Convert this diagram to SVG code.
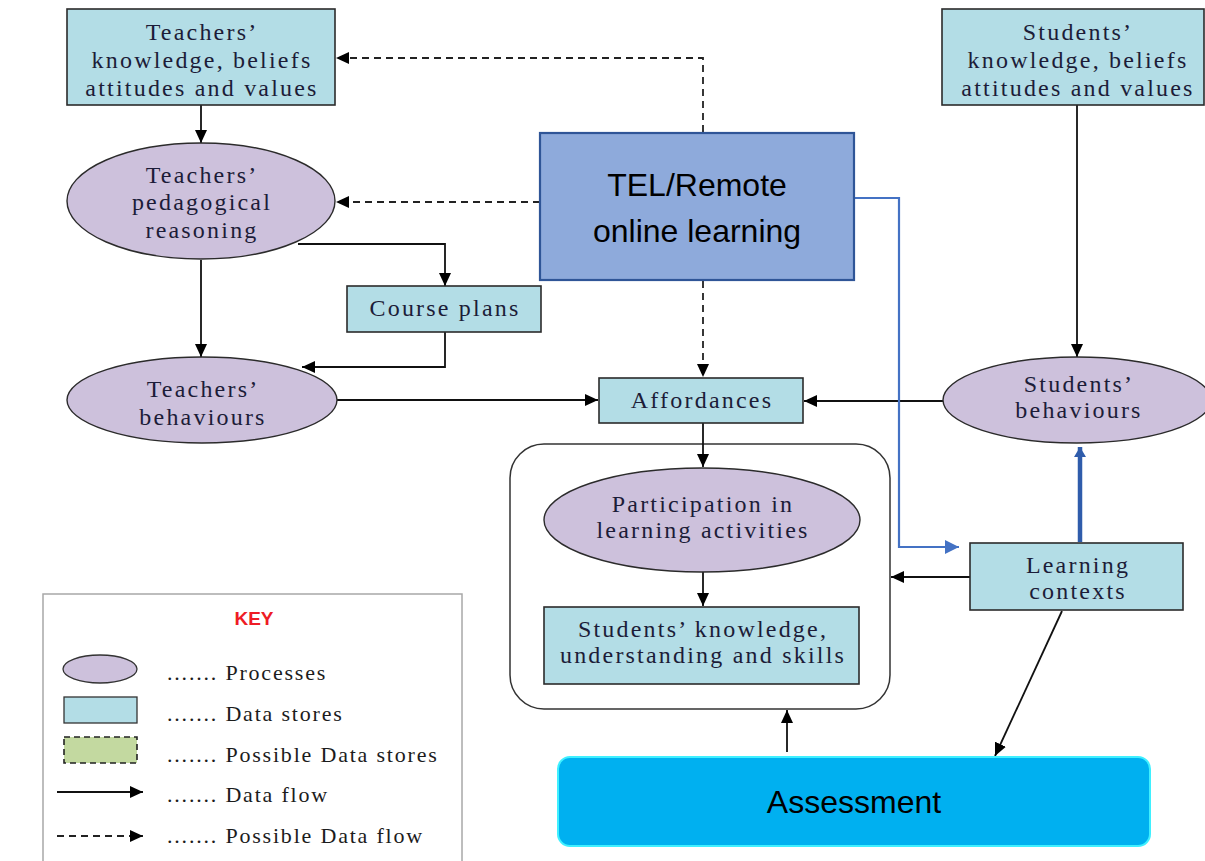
<svg xmlns="http://www.w3.org/2000/svg" width="1205" height="861" viewBox="0 0 1205 861">
<defs>
<style>
.store{fill:#b3dde6;stroke:#2b2b2b;stroke-width:1.6}
.proc{fill:#cdc1dc;stroke:#2b2b2b;stroke-width:1.4}
.t{font-family:"Liberation Serif","Times New Roman",serif;font-size:24px;letter-spacing:2.2px;fill:#1c1c38;text-anchor:middle}
.k{font-family:"Liberation Serif","Times New Roman",serif;font-size:22px;letter-spacing:1.8px;fill:#1c1c1c}
.s{font-family:"Liberation Sans",Arial,sans-serif;font-size:32px;fill:#000;text-anchor:middle}
.c{fill:none;stroke:#111;stroke-width:1.8}
.d{fill:none;stroke:#222;stroke-width:1.8;stroke-dasharray:7 5}
</style>
<marker id="ah" markerUnits="userSpaceOnUse" markerWidth="13" markerHeight="12" refX="13" refY="6" orient="auto">
<path d="M0,0 L13,6 L0,12 z" fill="#000"/>
</marker>
<marker id="bh" markerUnits="userSpaceOnUse" markerWidth="14" markerHeight="14" refX="14" refY="7" orient="auto">
<path d="M0,0 L14,7 L0,14 z" fill="#4472c4"/>
</marker>
<marker id="bh2" markerUnits="userSpaceOnUse" markerWidth="10" markerHeight="12" refX="10" refY="6" orient="auto">
<path d="M0,0 L10,6 L0,12 z" fill="#2f5cab"/>
</marker>
</defs>
<rect width="1205" height="861" fill="#fff"/>

<g id="container">
<rect x="510" y="444" width="380" height="265" rx="34" ry="34" fill="none" stroke="#333" stroke-width="1.5"/>
</g>

<g id="connectors">
<path class="c" d="M201,105 V143" marker-end="url(#ah)"/>
<path class="c" d="M298,244 H445 V286" marker-end="url(#ah)"/>
<path class="c" d="M201,260 V357" marker-end="url(#ah)"/>
<path class="c" d="M445,332 V367 H302" marker-end="url(#ah)"/>
<path class="c" d="M337,400 H598" marker-end="url(#ah)"/>
<path class="d" d="M703,132 V58 H336" marker-end="url(#ah)"/>
<path class="d" d="M540,202 H336" marker-end="url(#ah)"/>
<path class="d" d="M703,281 V377" marker-end="url(#ah)"/>
<path class="c" d="M1077,105 V357" stroke="#444" marker-end="url(#ah)"/>
<path class="c" d="M943,401 H804" marker-end="url(#ah)"/>
<path class="c" d="M703,423 V467" marker-end="url(#ah)"/>
<path class="c" d="M703,572 V606" marker-end="url(#ah)"/>
<path class="c" d="M970,577 H891" marker-end="url(#ah)"/>
<path class="c" d="M1062,611 L995,756" marker-end="url(#ah)"/>
<path class="c" d="M787,752 V710" marker-end="url(#ah)"/>
<path d="M838,198 H899 V547 H959" fill="none" stroke="#4472c4" stroke-width="2.2" marker-end="url(#bh)"/>
<path d="M1080,542 V447" fill="none" stroke="#2f5cab" stroke-width="4.5" marker-end="url(#bh2)"/>
</g>

<g id="teachers-kbav">
<rect class="store" x="67" y="9" width="268" height="96"/>
<text class="t" x="202" y="40">Teachers’</text>
<text class="t" x="202" y="68">knowledge, beliefs</text>
<text class="t" x="202" y="96">attitudes and values</text>
</g>

<g id="teachers-reasoning">
<ellipse class="proc" cx="201" cy="201" rx="134" ry="58"/>
<text class="t" x="202" y="183">Teachers’</text>
<text class="t" x="202" y="210">pedagogical</text>
<text class="t" x="202" y="238">reasoning</text>
</g>

<g id="course-plans">
<rect class="store" x="347" y="286" width="194" height="46"/>
<text class="t" x="445" y="316">Course plans</text>
</g>

<g id="teachers-behaviours">
<ellipse class="proc" cx="202" cy="400" rx="135" ry="43"/>
<text class="t" x="203" y="397">Teachers’</text>
<text class="t" x="203" y="425">behaviours</text>
</g>

<g id="tel">
<rect x="540" y="133" width="314" height="147" fill="#8eaadb" stroke="#2f5597" stroke-width="2.2"/>
<text class="s" x="697" y="196">TEL/Remote</text>
<text class="s" x="697" y="242">online learning</text>
</g>

<g id="students-kbav">
<rect class="store" x="942" y="9" width="262" height="96"/>
<text class="t" x="1078" y="40">Students’</text>
<text class="t" x="1078" y="68">knowledge, beliefs</text>
<text class="t" x="1078" y="96">attitudes and values</text>
</g>

<g id="students-behaviours">
<ellipse class="proc" cx="1077" cy="400" rx="134" ry="43"/>
<text class="t" x="1079" y="392">Students’</text>
<text class="t" x="1079" y="418">behaviours</text>
</g>

<g id="affordances">
<rect class="store" x="599" y="378" width="204" height="45"/>
<text class="t" x="702" y="408">Affordances</text>
</g>

<g id="participation">
<ellipse class="proc" cx="702" cy="520" rx="158" ry="52"/>
<text class="t" x="703" y="512">Participation in</text>
<text class="t" x="703" y="538">learning activities</text>
</g>

<g id="students-ksu">
<rect class="store" x="544" y="607" width="315" height="77"/>
<text class="t" x="703" y="637">Students’ knowledge,</text>
<text class="t" x="703" y="663">understanding and skills</text>
</g>

<g id="learning-contexts">
<rect class="store" x="970" y="543" width="213" height="67"/>
<text class="t" x="1078" y="573">Learning</text>
<text class="t" x="1078" y="599">contexts</text>
</g>

<g id="assessment">
<rect x="558" y="757" width="592" height="89" rx="12" ry="12" fill="#00b0f0" stroke="#3ff0ff" stroke-width="2"/>
<text class="s" x="854" y="813">Assessment</text>
</g>

<g id="key">
<rect x="43" y="594" width="419" height="280" fill="#fff" stroke="#a8a8a8" stroke-width="1.5"/>
<text x="254" y="625" font-family="Liberation Sans, Arial, sans-serif" font-size="19" font-weight="bold" fill="#ee1c25" text-anchor="middle">KEY</text>
<ellipse cx="100" cy="669" rx="37" ry="14" fill="#cdc1dc" stroke="#333" stroke-width="1.3"/>
<rect x="64" y="697" width="73" height="26" fill="#b3dde6" stroke="#333" stroke-width="1.3"/>
<rect x="64" y="737" width="73" height="26" fill="#c3d9a0" stroke="#222" stroke-width="1.6" stroke-dasharray="6 4"/>
<path class="c" d="M57,792 H143" marker-end="url(#ah)"/>
<path class="d" d="M57,836 H143" stroke-dasharray="6 4" marker-end="url(#ah)"/>
<text class="k" x="167" y="680">....... Processes</text>
<text class="k" x="167" y="721">....... Data stores</text>
<text class="k" x="167" y="762">....... Possible Data stores</text>
<text class="k" x="167" y="802">....... Data flow</text>
<text class="k" x="167" y="843">....... Possible Data flow</text>
</g>
</svg>
